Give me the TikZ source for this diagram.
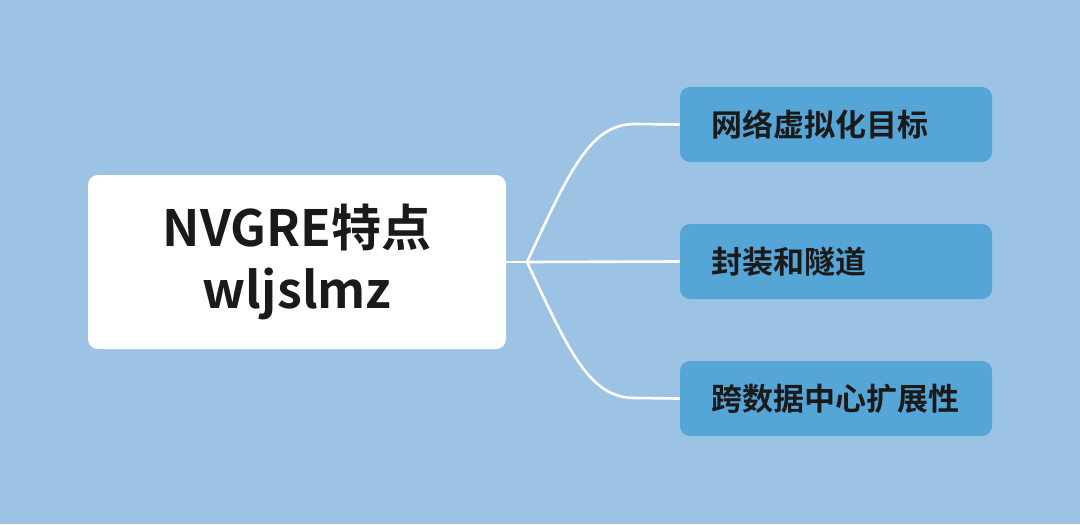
\documentclass[tikz,border=0pt]{standalone}
\usepackage{fontspec}
\setmainfont{Noto Sans CJK SC}[BoldFont={* Bold}]
\definecolor{bg}{HTML}{9DC3E4}
\definecolor{leaf}{HTML}{55A5D6}
\definecolor{ink}{HTML}{1A1A1A}
\begin{document}
\begin{tikzpicture}[x=0.5pt,y=-0.5pt,
  leafbox/.style={fill=leaf,rounded corners=5pt,minimum width=156pt,minimum height=37.5pt,inner sep=0pt,text=ink,font=\fontsize{15.5}{18}\selectfont\bfseries,align=left,text width=125pt},
  link/.style={white,line width=1.3pt}]
\fill[bg] (0,0) rectangle (1080,524);
\useasboundingbox (0,0) rectangle (1080,524);
\node[fill=white,rounded corners=5pt,minimum width=209pt,minimum height=87pt,inner sep=0pt,text=ink,font=\fontsize{25}{31}\selectfont\bfseries,align=center] (root) at (297,262) {NVGRE特点\\wljslmz};
\node[leafbox] (a) at (836,124.5) {网络虚拟化目标};
\node[leafbox] (b) at (836,261.5) {封装和隧道};
\node[leafbox] (c) at (836,398.5) {跨数据中心扩展性};
\coordinate (j) at (527,262);
\draw[link] (root.east) -- (j);
\draw[link] (j) .. controls (570,170) and (590,124) .. (635,124) -- (a.west);
\draw[link] (j) -- (b.west);
\draw[link] (j) .. controls (570,354) and (590,398) .. (635,398) -- (c.west);
\end{tikzpicture}
\end{document}
